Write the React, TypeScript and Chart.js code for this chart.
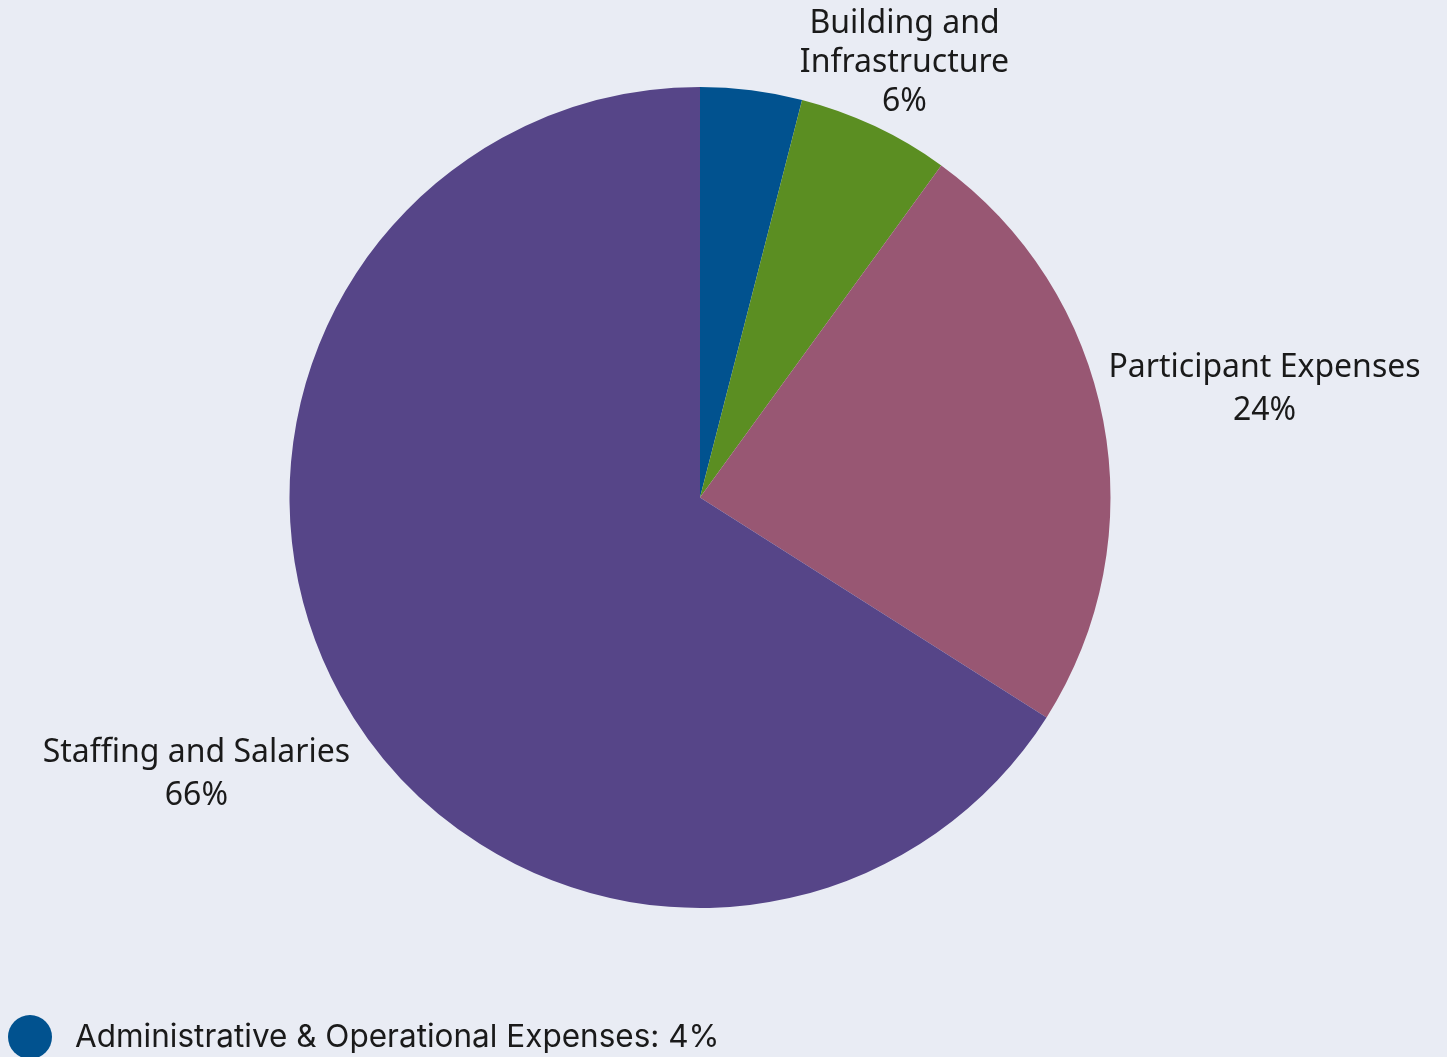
import React, { useEffect, useRef } from "react";
import { Chart, registerables } from "chart.js";

Chart.register(...registerables);

const categories = [
  "Administrative & Operational Expenses",
  "Building and Infrastructure",
  "Participant Expenses",
  "Staffing and Salaries",
];
const shares = [4, 6, 24, 66];
const labelLines: (string[] | null)[] = [
  null,
  ["Building and", "Infrastructure"],
  ["Participant Expenses"],
  ["Staffing and Salaries"],
];
const legendIndices = [0];

const sliceColors = ["#01528F", "#5B8E22", "#985773", "#564588"];
const labelRadiusFactor = [0, 1.17, 1.4, 1.4];
const BG = "#E9ECF4";
const LABEL_FONT = "'Noto Sans', sans-serif";
const LEGEND_FONT = "Inter, 'Noto Sans', sans-serif";

const CW = 1431;
const CH = 1049;

const labelPlugin = {
  id: "sliceLabels",
  afterDatasetsDraw(chart: any) {
    const ctx = chart.ctx;
    const meta = chart.getDatasetMeta(0);
    const total = shares.reduce((a, b) => a + b, 0);
    ctx.save();
    ctx.fillStyle = "#1a1a1a";
    ctx.font = `32px ${LABEL_FONT}`;
    ctx.textAlign = "center";
    ctx.textBaseline = "middle";
    meta.data.forEach((arc: any, i: number) => {
      const lines = labelLines[i];
      if (!lines) return;
      const p = arc.getProps(["x", "y", "startAngle", "endAngle", "outerRadius"], true);
      const mid = (p.startAngle + p.endAngle) / 2;
      const r = p.outerRadius * labelRadiusFactor[i];
      const cx = p.x + Math.cos(mid) * r;
      const cy = p.y + Math.sin(mid) * r;
      const all = [...lines, `${Math.round((shares[i] / total) * 100)}%`];
      const lh = lines.length > 1 ? 39 : 43;
      const y0 = cy - ((all.length - 1) * lh) / 2;
      all.forEach((t, k) => ctx.fillText(t, cx, y0 + k * lh));
    });
    ctx.restore();
  },
};

const legendPlugin = {
  id: "customLegend",
  afterDraw(chart: any) {
    const ctx = chart.ctx;
    ctx.save();
    legendIndices.forEach((idx, k) => {
      const y = chart.height - 20 - k * 50;
      ctx.fillStyle = sliceColors[idx];
      ctx.beginPath();
      ctx.arc(22, y, 22, 0, Math.PI * 2);
      ctx.fill();
      ctx.fillStyle = "#1a1a1a";
      ctx.font = `31.5px ${LEGEND_FONT}`;
      ctx.textAlign = "left";
      ctx.textBaseline = "middle";
      ctx.fillText(`${categories[idx]}: ${shares[idx]}%`, 67, y + 1);
    });
    ctx.restore();
  },
};

export default function App() {
  const ref = useRef<HTMLCanvasElement | null>(null);
  useEffect(() => {
    document.body.style.background = BG;
    const c = ref.current!;
    const chart = new Chart(c, {
      type: "pie",
      data: {
        labels: categories,
        datasets: [
          {
            data: shares,
            backgroundColor: sliceColors,
            borderWidth: 0,
          },
        ],
      },
      options: {
        responsive: false,
        animation: false,
        layout: { padding: { top: 79, bottom: 149, left: 0, right: 47 } },
        plugins: {
          legend: { display: false },
          tooltip: { enabled: false },
        },
      },
      plugins: [labelPlugin, legendPlugin],
    });
    return () => chart.destroy();
  }, []);
  return (
    <div style={{ width: CW, height: CH, background: BG }}>
      <canvas ref={ref} width={CW} height={CH} style={{ display: "block" }} />
    </div>
  );
}
